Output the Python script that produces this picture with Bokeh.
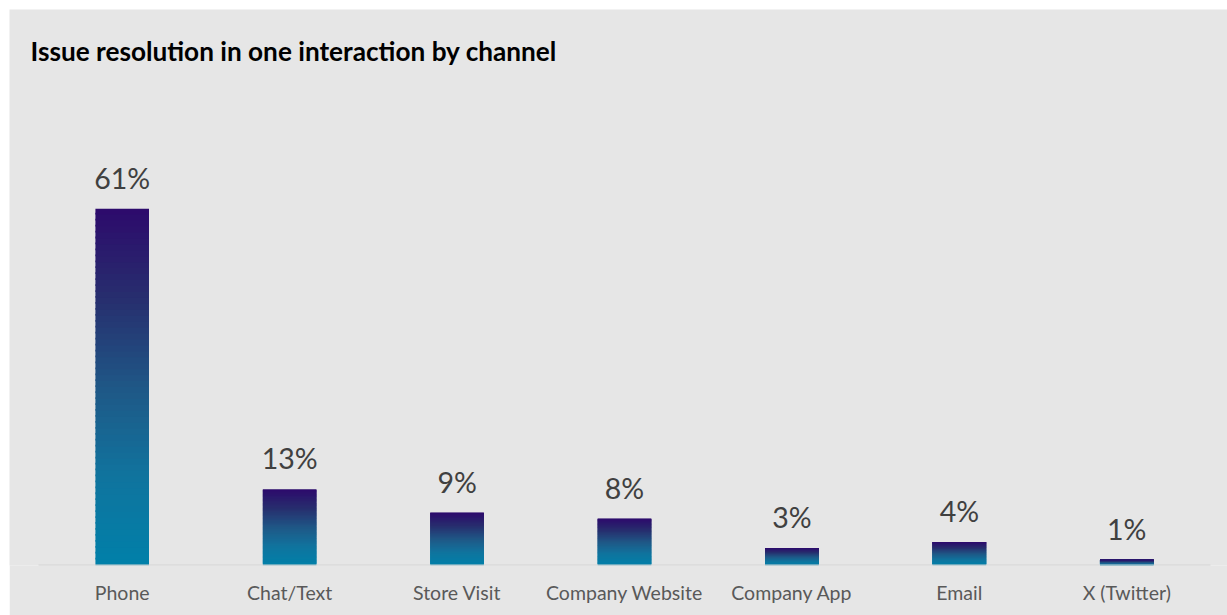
from bokeh.plotting import figure
from bokeh.models import ColumnDataSource, Label, Range1d, FixedTicker
from bokeh.core.properties import value
from bokeh.embed import file_html
from bokeh.resources import INLINE

categories = ["Phone", "Chat/Text", "Store Visit", "Company Website", "Company App", "Email", "X (Twitter)"]
values = [61, 13, 9, 8, 3, 4, 1]
labels = ["61%", "13%", "9%", "8%", "3%", "4%", "1%"]

# category slot centres on a numeric axis
pos = [i + 0.5 for i in range(len(categories))]

# gradient stops (fraction of bar height from bottom -> colour)
stops = [(0.0, (0x00, 0x80, 0xA9)), (0.25, (0x10, 0x74, 0x9E)), (0.5, (0x1F, 0x57, 0x86)),
         (0.75, (0x27, 0x2E, 0x6E)), (1.0, (0x2D, 0x0A, 0x6C))]

def grad(t):
    for (t0, c0), (t1, c1) in zip(stops[:-1], stops[1:]):
        if t <= t1:
            f = (t - t0) / (t1 - t0)
            return "#%02x%02x%02x" % tuple(int(round(a + (b - a) * f)) for a, b in zip(c0, c1))
    return "#%02x%02x%02x" % stops[-1][1]

N = 60
xs, bots, tops, cols = [], [], [], []
for x, v in zip(pos, values):
    for i in range(N):
        xs.append(x)
        bots.append(v * i / N)
        tops.append(min(v, v * (i + 1) / N + 0.3))
        cols.append(grad((i + 0.5) / N))

BG = "#e6e6e6"
p = figure(x_range=Range1d(-0.1732, len(categories) + 0.1016),
           y_range=Range1d(0, 95.04),
           width=1218, height=606, output_backend="svg", toolbar_location=None,
           background_fill_color=BG, border_fill_color=BG, outline_line_color=None,
           min_border_left=0, min_border_right=0, min_border_top=0, min_border_bottom=50)
p.margin = (9, 0, 0, 9)

src = ColumnDataSource(dict(x=xs, bottom=bots, top=tops, color=cols))
p.vbar(x="x", bottom="bottom", top="top", width=0.32, source=src,
       fill_color="color", line_color=None)

# baseline across the full category extent
p.segment(x0=[0], y0=[0], x1=[len(categories)], y1=[0], line_color="#d4d4d4", line_width=2)

lsrc = ColumnDataSource(dict(x=pos, y=values, t=labels))
p.text(x="x", y="y", text="t", source=lsrc, text_align="center", text_baseline="bottom",
       y_offset=-14, text_font=value("Lato"), text_font_size="28.5px", text_color="#404040")

p.grid.visible = False
p.yaxis.visible = False
ax = p.xaxis[0]
ax.ticker = FixedTicker(ticks=pos)
ax.major_label_overrides = {x: c for x, c in zip(pos, categories)}
ax.axis_line_color = None
ax.major_tick_line_color = None
ax.minor_tick_line_color = None
ax.major_tick_out = 0
ax.major_tick_in = 0
ax.major_label_text_font = "Lato"
ax.major_label_text_font_size = "19.5px"
ax.major_label_text_color = "#595959"
ax.major_label_standoff = 15

title = Label(x=21, y=515, x_units="screen", y_units="screen",
              text="Issue resolution in one interaction by channel",
              text_font="Lato", text_font_style="bold", text_font_size="26.2px",
              text_color="#000000", text_baseline="middle")
p.add_layout(title)

open("out.html", "w").write(file_html(p, INLINE))
